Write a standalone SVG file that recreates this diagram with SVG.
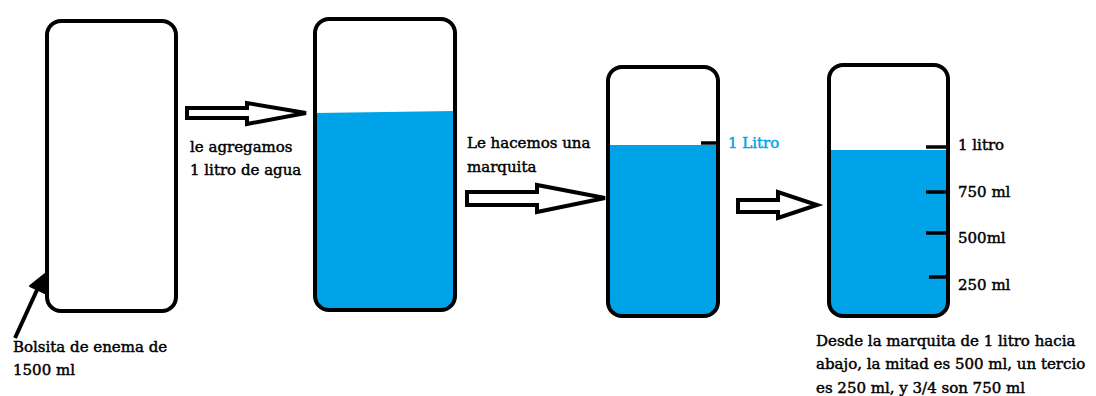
<svg xmlns="http://www.w3.org/2000/svg" width="1096" height="396" viewBox="0 0 1096 396">
<style>
.box{fill:none;stroke:#000;stroke-width:4}
.water{fill:#00A2E8}
.tick{stroke:#000;stroke-width:3.5}
.arr{fill:#fff;stroke:#000;stroke-width:4;stroke-linejoin:miter}
.t{font-family:"DejaVu Serif","Liberation Serif",serif;font-size:15px;fill:#000;stroke:#000;stroke-width:0.45}
.blue{fill:#00A2E8;stroke:#00A2E8}
</style>
<defs>
<clipPath id="c2"><rect x="315" y="19" width="140" height="291" rx="14"/></clipPath>
<clipPath id="c3"><rect x="608" y="67" width="110" height="249" rx="14"/></clipPath>
<clipPath id="c4"><rect x="829" y="65" width="119" height="251" rx="14"/></clipPath>
</defs>
<rect width="1096" height="396" fill="#fff"/>
<g id="bolsa1">
<rect class="box" x="47" y="21" width="129" height="290" rx="14"/>
</g>
<g id="bolsa2">
<polygon class="water" clip-path="url(#c2)" points="315,113 455,111 455,310 315,310"/>
<rect class="box" x="315" y="19" width="140" height="291" rx="14"/>
</g>
<g id="bolsa3">
<rect class="water" clip-path="url(#c3)" x="608" y="145" width="110" height="171"/>
<rect class="box" x="608" y="67" width="110" height="249" rx="14"/>
<line class="tick" x1="701" y1="143" x2="718" y2="143"/>
<text class="t blue" x="728" y="148">1 Litro</text>
</g>
<g id="bolsa4">
<rect class="water" clip-path="url(#c4)" x="829" y="150" width="119" height="166"/>
<rect class="box" x="829" y="65" width="119" height="251" rx="14"/>
<line class="tick" x1="926" y1="147" x2="948" y2="147"/>
<line class="tick" x1="926" y1="192" x2="948" y2="192"/>
<line class="tick" x1="926" y1="233" x2="948" y2="233"/>
<line class="tick" x1="929" y1="277" x2="948" y2="277"/>
<text class="t" x="958" y="150">1 litro</text>
<text class="t" x="958" y="197">750 ml</text>
<text class="t" x="958" y="243">500ml</text>
<text class="t" x="958" y="290">250 ml</text>
</g>
<g id="connectors">
<polygon class="arr" points="187,108 247,108 247,103 306,113 247,124 247,118 187,118"/>
<polygon class="arr" points="467,192 537,192 537,185 605,198 537,212 537,205 467,205"/>
<polygon class="arr" points="738,200 778,200 778,192 817,205 778,218 778,212 738,212"/>
<line x1="15" y1="338" x2="37" y2="290" stroke="#000" stroke-width="4"/>
<polygon points="45,274 45,293 30,286" fill="#000" stroke="#000" stroke-width="2" stroke-linejoin="round"/>
</g>
<g id="labels">
<text class="t" x="190" y="152">le agregamos</text>
<text class="t" x="190" y="175">1 litro de agua</text>
<text class="t" x="467" y="148">Le hacemos una</text>
<text class="t" x="467" y="172">marquita</text>
<text class="t" x="13" y="352">Bolsita de enema de</text>
<text class="t" x="13" y="375">1500 ml</text>
<text class="t" x="816" y="346">Desde la marquita de 1 litro hacia</text>
<text class="t" x="816" y="369">abajo, la mitad es 500 ml, un tercio</text>
<text class="t" x="816" y="393">es 250 ml, y 3/4 son 750 ml</text>
</g>
</svg>
